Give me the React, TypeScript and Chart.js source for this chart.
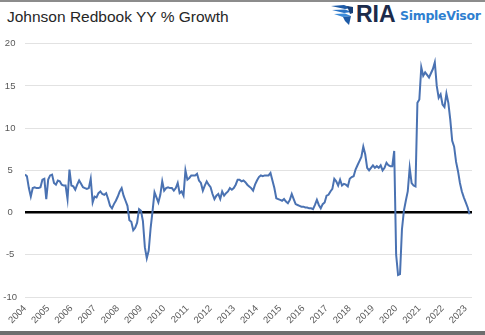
import React, { useEffect, useRef } from "react";
import { Chart, registerables } from "chart.js";

Chart.register(...registerables);

const startYear = 2004;
const endYearMax = 2023.27;
const yearTickValues = [
  2004, 2005, 2006, 2007, 2008, 2009, 2010, 2011, 2012, 2013,
  2014, 2015, 2016, 2017, 2018, 2019, 2020, 2021, 2022, 2023,
];
const yTickValues = [-10, -5, 0, 5, 10, 15, 20];

// Monthly Johnson Redbook YY % growth, Jan 2004 .. Mar 2023
const growthValues = [
  // 2004
  4.5, 4.3, 2.9, 1.9, 2.9, 3.0, 2.9, 2.9, 3.0, 3.9, 4.0, 1.6,
  // 2005
  3.9, 4.4, 4.5, 3.5, 3.3, 3.8, 3.7, 3.3, 3.2, 3.2, 1.6, 5.1,
  // 2006
  3.2, 3.1, 2.7, 3.3, 3.8, 3.4, 3.0, 2.9, 2.8, 2.9, 4.0, 1.2,
  // 2007
  1.9, 1.8, 2.3, 2.5, 2.2, 2.1, 2.3, 1.6, 0.8, 0.5, 1.0, 1.4,
  // 2008
  1.9, 2.5, 2.9, 2.0, 1.4, 0.8, -0.9, -1.1, -2.1, -1.8, -1.2, 0.4,
  // 2009
  0.2, -1.0, -4.1, -5.4, -4.5, -1.8, 0.2, 2.4, 1.8, 1.2, 2.1, 3.7,
  // 2010
  2.6, 2.9, 3.0, 2.9, 2.9, 2.6, 2.9, 3.5, 2.3, 2.5, 2.0, 5.0,
  // 2011
  3.9, 4.1, 4.4, 4.4, 4.4, 4.6, 3.8, 3.5, 2.6, 3.2, 3.7, 3.3,
  // 2012
  3.0, 2.2, 1.6, 2.0, 2.2, 1.6, 2.5, 2.0, 2.3, 2.5, 2.9, 2.7,
  // 2013
  2.9, 3.3, 3.9, 3.9, 3.7, 3.8, 3.6, 3.3, 3.1, 2.9, 2.6, 3.3,
  // 2014
  3.8, 4.2, 4.4, 4.3, 4.4, 4.4, 4.4, 4.7, 3.8, 2.9, 1.7, 1.6,
  // 2015
  1.5, 1.4, 1.6, 1.3, 1.1, 1.5, 2.2, 1.6, 1.0, 0.9, 0.8, 0.7,
  // 2016
  0.7, 0.6, 0.6, 0.5, 0.5, 0.4, 0.9, 1.5, 0.9, 0.5, 1.0, 1.2,
  // 2017
  2.0, 2.1, 2.5, 2.8, 4.0, 3.7, 3.2, 3.9, 3.2, 3.4, 3.3, 3.1,
  // 2018
  4.0, 4.2, 4.3, 5.1, 5.6, 6.1, 6.6, 7.8, 6.9, 5.3, 5.0, 5.3,
  // 2019
  5.6, 5.3, 5.5, 5.3, 5.6, 5.0, 5.3, 5.9, 5.6, 5.5, 5.5, 7.3,
  // 2020
  -5.0, -7.4, -7.3, -2.0, 0.2, 1.4, 2.5, 5.3, 3.5, 3.2, 3.1, 13.0,
  // 2021
  13.4, 17.2, 16.2, 16.6, 16.3, 16.0, 16.5, 17.0, 17.8, 15.0, 13.6, 14.0,
  // 2022
  12.8, 12.5, 14.1, 13.0, 11.0, 8.5, 7.8, 6.0, 4.9, 3.5, 2.5, 1.8,
  // 2023
  1.2, 0.6, -0.2,
];

const FONT = "'Liberation Sans', Arial, sans-serif";

function EagleIcon() {
  return (
    <svg width="24" height="22" viewBox="0 0 24 22" style={{ position: "absolute", left: 330, top: 4 }}>
      <path d="M1 2 L14 1 L22 4 L15 5 Z" fill="#1d5aa6" />
      <path d="M2 6 L15 5.5 L22 8 L14 9 Z" fill="#2a73c4" />
      <path d="M4 10 L15 9.5 L21 12 L13 13 Z" fill="#3b8ad8" />
      <path d="M13 13 L21 12 L19 21 L15 17 Z" fill="#1d5aa6" />
      <path d="M17 2 L23 3 L23 9 L20 10 Z" fill="#173f78" />
    </svg>
  );
}

export default function App() {
  const canvasRef = useRef<HTMLCanvasElement | null>(null);

  useEffect(() => {
    if (!canvasRef.current) return;
    const points = growthValues.map((v, i) => ({ x: startYear + i / 12, y: v }));
    const chart = new Chart(canvasRef.current, {
      type: "line",
      data: {
        datasets: [
          {
            label: "Johnson Redbook YY % Growth",
            data: points,
            borderColor: "#4a72b2",
            borderWidth: 2,
            pointRadius: 0,
            tension: 0,
            fill: false,
          },
        ],
      },
      options: {
        animation: false,
        responsive: false,
        maintainAspectRatio: false,
        layout: { padding: { top: 10, right: 13, left: 0, bottom: 0 } },
        plugins: {
          legend: { display: false },
          tooltip: { enabled: false },
          title: { display: false },
        },
        scales: {
          x: {
            type: "linear",
            min: startYear,
            max: endYearMax,
            grid: { display: false },
            border: { display: false },
            afterBuildTicks: (scale: any) => {
              scale.ticks = yearTickValues.map((v) => ({ value: v }));
            },
            afterFit: (scale: any) => {
              scale.height = 38;
            },
            ticks: {
              autoSkip: false,
              minRotation: 45,
              maxRotation: 45,
              padding: -2,
              color: "#595959",
              font: { size: 9.5, family: FONT },
              callback: (v: any) => String(v),
            },
          },
          y: {
            min: -10,
            max: 20,
            afterBuildTicks: (scale: any) => {
              scale.ticks = yTickValues.map((v) => ({ value: v }));
            },
            afterFit: (scale: any) => {
              scale.width = 25;
            },
            border: { display: false },
            grid: {
              drawTicks: false,
              color: (ctx: any) => (ctx.tick && ctx.tick.value === 0 ? "#000000" : "#e2e2e2"),
              lineWidth: (ctx: any) => (ctx.tick && ctx.tick.value === 0 ? 2.5 : 1),
            },
            ticks: {
              padding: 8,
              crossAlign: "center",
              color: "#595959",
              font: { size: 9.5, family: FONT },
              callback: (v: any) => String(v),
            },
          },
        },
      },
    });
    return () => chart.destroy();
  }, []);

  return (
    <div
      style={{
        position: "absolute",
        left: 0,
        top: 0,
        width: 485,
        height: 335,
        background: "#ffffff",
        overflow: "hidden",
        fontFamily: FONT,
      }}
    >
      <canvas
        ref={canvasRef}
        width={485}
        height={305}
        style={{ position: "absolute", left: 0, top: 30, width: 485, height: 305 }}
      />
      <div style={{ position: "absolute", left: 0, top: 0, width: 485, height: 2, background: "#8c8c8c" }} />
      <div style={{ position: "absolute", left: 0, top: 331, width: 485, height: 4, background: "#6e6e6e" }} />
      <div
        style={{
          position: "absolute",
          left: 7,
          top: 7,
          fontSize: 15.5,
          color: "#262626",
          whiteSpace: "nowrap",
          lineHeight: "20px",
        }}
      >
        Johnson Redbook YY % Growth
      </div>
      <EagleIcon />
      <div
        style={{
          position: "absolute",
          left: 356,
          top: 1,
          fontSize: 23,
          fontWeight: 700,
          color: "#1c2b4b",
          lineHeight: "26px",
          whiteSpace: "nowrap",
        }}
      >
        RIA
      </div>
      <div
        style={{
          position: "absolute",
          left: 400,
          top: 8,
          fontSize: 12.5,
          fontWeight: 700,
          color: "#2f7fd0",
          lineHeight: "16px",
          whiteSpace: "nowrap",
          fontFamily: "'DejaVu Sans', Verdana, sans-serif",
          letterSpacing: -0.3,
        }}
      >
        SimpleVisor
      </div>
    </div>
  );
}
